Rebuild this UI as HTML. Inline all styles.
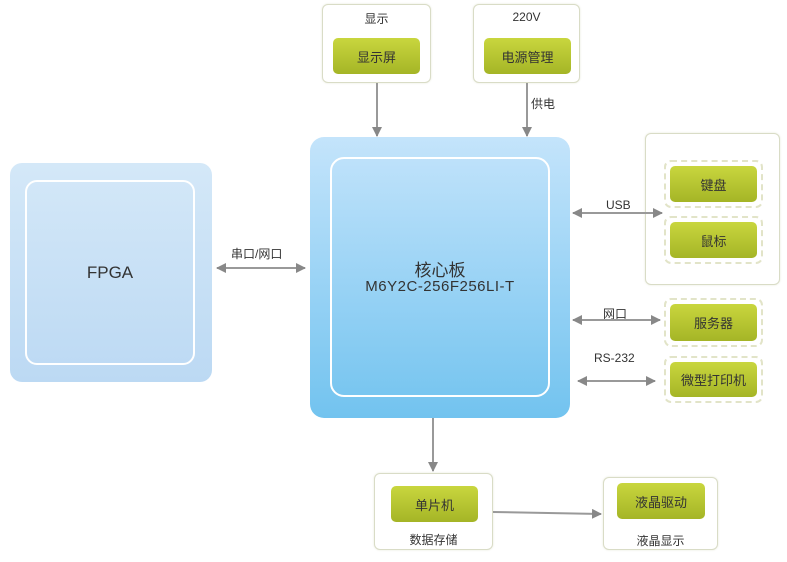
<!DOCTYPE html>
<html><head><meta charset="utf-8"><style>
body{margin:0;width:787px;height:562px;background:#fff;position:relative;overflow:hidden;font-family:"Liberation Sans","Noto Sans CJK SC",sans-serif;color:#333}
div{position:absolute;box-sizing:border-box}
.box{border:1.5px solid #d9dcc6;border-radius:6px;background:#fff;box-shadow:0 0 2px #e6e8da}
.g{background:linear-gradient(#c9d63e,#a5b526);border-radius:5px;font-size:13px;display:flex;align-items:center;justify-content:center;color:#333}
.d{border:2px dashed #e2e4c8;border-radius:7px}
.d .g{left:4px;top:4px;right:4px;bottom:4px}
.t{font-size:12px;white-space:nowrap}
</style></head><body>
<div style="left:10px;top:163px;width:202px;height:219px;border-radius:12px;background:linear-gradient(#d4e8f8,#bcd9f3)"></div>
<div style="left:25px;top:180px;width:170px;height:185px;border:2px solid #fff;border-radius:12px;display:flex;align-items:center;justify-content:center;font-size:17px">FPGA</div>
<div style="left:310px;top:137px;width:260px;height:281px;border-radius:14px;background:linear-gradient(#c4e4fb,#72c3ef)"></div>
<div style="left:330px;top:157px;width:220px;height:240px;border:2px solid #fff;border-radius:14px"></div>
<div class="t" style="left:330px;top:256px;width:220px;text-align:center;font-size:17px">核心板</div>
<div class="t" style="left:310px;top:278px;width:260px;text-align:center;font-size:15px;letter-spacing:0.5px">M6Y2C-256F256LI-T</div>

<div class="box" style="left:322px;top:4px;width:109px;height:79px"></div>
<div class="t" style="left:322px;top:10px;width:109px;text-align:center">显示</div>
<div class="g" style="left:333px;top:38px;width:87px;height:36px">显示屏</div>
<div class="box" style="left:473px;top:4px;width:107px;height:79px"></div>
<div class="t" style="left:473px;top:10px;width:107px;text-align:center">220V</div>
<div class="g" style="left:484px;top:38px;width:87px;height:36px">电源管理</div>
<div class="t" style="left:531px;top:95px">供电</div>

<div class="box" style="left:645px;top:133px;width:135px;height:152px"></div>
<div class="d" style="left:664px;top:160px;width:99px;height:48px"><div class="g">键盘</div></div>
<div class="d" style="left:664px;top:216px;width:99px;height:48px"><div class="g">鼠标</div></div>
<div class="d" style="left:664px;top:298px;width:99px;height:49px"><div class="g">服务器</div></div>
<div class="d" style="left:664px;top:356px;width:99px;height:47px"><div class="g">微型打印机</div></div>
<div class="t" style="left:606px;top:198px">USB</div>
<div class="t" style="left:603px;top:305px">网口</div>
<div class="t" style="left:594px;top:351px">RS-232</div>
<div class="t" style="left:231px;top:245px">串口/网口</div>

<div class="box" style="left:374px;top:473px;width:119px;height:77px"></div>
<div class="g" style="left:391px;top:486px;width:87px;height:36px">单片机</div>
<div class="t" style="left:374px;top:531px;width:119px;text-align:center">数据存储</div>
<div class="box" style="left:603px;top:477px;width:115px;height:73px"></div>
<div class="g" style="left:617px;top:483px;width:88px;height:36px">液晶驱动</div>
<div class="t" style="left:603px;top:532px;width:115px;text-align:center">液晶显示</div>

<svg width="787" height="562" style="position:absolute;left:0;top:0">
<defs><marker id="a" markerWidth="10" markerHeight="10" refX="9" refY="5" orient="auto-start-reverse" markerUnits="userSpaceOnUse"><path d="M0,0L10,5L0,10z" fill="#888"/></marker></defs>
<g stroke="#999" stroke-width="2" fill="none">
<line x1="377" y1="83" x2="377" y2="136" marker-end="url(#a)"/>
<line x1="527" y1="83" x2="527" y2="136" marker-end="url(#a)"/>
<line x1="573" y1="213" x2="662" y2="213" marker-start="url(#a)" marker-end="url(#a)"/>
<line x1="573" y1="320" x2="660" y2="320" marker-start="url(#a)" marker-end="url(#a)"/>
<line x1="578" y1="381" x2="655" y2="381" marker-start="url(#a)" marker-end="url(#a)"/>
<line x1="217" y1="268" x2="305" y2="268" marker-start="url(#a)" marker-end="url(#a)"/>
<line x1="433" y1="418" x2="433" y2="471" marker-end="url(#a)"/>
<line x1="493" y1="512" x2="601" y2="514" marker-end="url(#a)"/>
</g></svg>
</body></html>
